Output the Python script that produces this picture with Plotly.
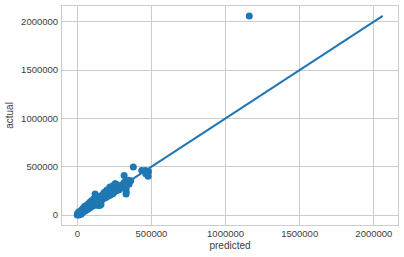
import plotly.graph_objects as go

# predicted vs actual values, in thousands
predicted = [0, 2, 5, 8, 10, 12, 15, 18, 20, 25, 25, 30, 30, 35, 40, 40, 45, 50, 50, 55,
             60, 60, 65, 70, 70, 75, 80, 80, 85, 90, 90, 95, 100, 100, 105, 110, 110, 115,
             120, 120, 125, 130, 130, 135, 140, 145, 150, 150, 155, 160, 165, 170, 175,
             180, 185, 190, 195, 200, 205, 210, 215, 220, 225, 230, 235, 240, 245, 250,
             255, 260, 265, 270, 275, 280, 290, 300, 310, 316, 318, 325, 329, 330, 330,
             330, 340, 350, 360, 378, 435, 460, 462, 473, 478, 480,
             120, 140, 150, 160, 180, 200, 220, 230, 240, 250, 255, 260, 280, 300, 320,
             330, 345, 350, 1160]
actual = [0, 15, 10, 30, 5, 0, 20, 40, 12, 30, 8, 22, 55, 40, 30, 70, 55, 42, 90, 65,
          50, 95, 75, 60, 110, 85, 70, 125, 95, 80, 140, 105, 90, 150, 115, 100, 165, 125,
          219, 110, 135, 120, 175, 145, 100, 150, 140, 175, 160, 110, 175, 160, 190,
          200, 235, 180, 220, 190, 240, 200, 225, 205, 245, 215, 250, 220, 270, 240,
          290, 320, 260, 300, 270, 290, 300, 310, 320, 409, 340, 300, 218, 320, 280,
          240, 330, 345, 355, 496, 461, 460, 427, 420, 402, 450,
          160, 180, 100, 200, 230, 260, 290, 280, 300, 310, 323, 250, 260, 280, 330,
          350, 360, 320, 2060]
predicted = [v * 1000 for v in predicted]
actual = [v * 1000 for v in actual]

color = "#1f77b4"
grid = "#cccccc"
font_color = "#404040"
font_family = "Liberation Sans, Arial, sans-serif"

line_x = sorted(actual)

fig = go.Figure()
fig.add_trace(go.Scatter(x=predicted, y=actual, mode="markers",
                         marker=dict(color=color, size=7, line=dict(width=0)),
                         showlegend=False))
fig.add_trace(go.Scatter(x=line_x, y=line_x, mode="lines",
                         line=dict(color=color, width=2), showlegend=False))

xmin = min(min(predicted), min(line_x)); xmax = max(max(predicted), max(line_x))
ymin = min(min(actual), min(line_x)); ymax = max(max(actual), max(line_x))
xpad = (xmax - xmin) * 0.05
ypad = (ymax - ymin) * 0.05

axis_common = dict(showgrid=True, gridcolor=grid, gridwidth=1, zeroline=False,
                   showline=True, linecolor=grid, linewidth=1, mirror=True,
                   tickformat="d", dtick=500000, tick0=0, ticks="",
                   tickfont=dict(family=font_family, size=9.5, color=font_color))

fig.update_layout(
    width=404, height=257,
    margin=dict(l=62, r=6, t=6, b=32),
    plot_bgcolor="white", paper_bgcolor="white",
    xaxis=dict(range=[xmin - xpad, xmax + xpad],
               title=dict(text="predicted", standoff=3,
                          font=dict(family=font_family, size=10, color=font_color)),
               ticklabelstandoff=0, **axis_common),
    yaxis=dict(range=[ymin - ypad, ymax + ypad],
               title=dict(text="actual", standoff=5,
                          font=dict(family=font_family, size=10, color=font_color)),
               ticklabelstandoff=1, **axis_common),
)

fig.write_html("out.html")
